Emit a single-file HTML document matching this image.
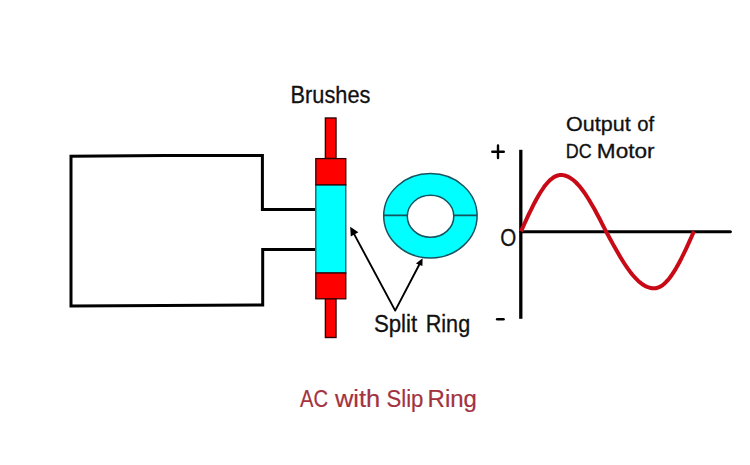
<!DOCTYPE html>
<html><head><meta charset="utf-8">
<style>
html,body{margin:0;padding:0;background:#fff;width:750px;height:465px;overflow:hidden}
svg{display:block}
text{font-family:"Liberation Sans",sans-serif}
</style></head><body>
<svg width="750" height="465" viewBox="0 0 750 465">
<rect width="750" height="465" fill="#fff"/>
<!-- left coil/armature -->
<path d="M315 209.6 H262.4 V155.5 L165 155.6 L71 156.3 V306 L262.7 305 V249.6 H315" fill="none" stroke="#000" stroke-width="3"/>
<!-- brushes -->
<rect x="325.4" y="118" width="10.6" height="40.5" fill="#f00" stroke="#300" stroke-width="1.4"/>
<rect x="325.4" y="298.5" width="10.6" height="39" fill="#f00" stroke="#300" stroke-width="1.4"/>
<rect x="315.8" y="184.8" width="30" height="88" fill="#0ff" stroke="#0b5c66" stroke-width="1.3"/>
<rect x="315.8" y="158.6" width="30" height="26.2" fill="#f00" stroke="#300" stroke-width="1.3"/>
<rect x="315.8" y="273" width="30" height="25.8" fill="#f00" stroke="#300" stroke-width="1.3"/>
<!-- ring -->
<path fill-rule="evenodd" d="M383.7 215.8 a46.7 42.2 0 1 0 93.4 0 a46.7 42.2 0 1 0 -93.4 0 Z M407.3 216.3 a23.25 21 0 1 0 46.5 0 a23.25 21 0 1 0 -46.5 0 Z" fill="#0ff" stroke="#15535e" stroke-width="1.5"/>
<path d="M383.5 215.3 H407.3 M453.8 215.3 H477.1" stroke="#15535e" stroke-width="1.8"/>
<!-- arrows -->
<polyline points="353.2,232.4 395.2,310.6 419.6,264" fill="none" stroke="#000" stroke-width="1.9" stroke-linejoin="round"/>
<polygon points="350.2,226.8 350.8,236.4 358.4,232.2" fill="#000"/>
<polygon points="422.6,258.3 415.9,263.4 422.4,266" fill="#000"/>
<!-- graph -->
<line x1="520.8" y1="149.8" x2="520.8" y2="318.8" stroke="#000" stroke-width="3.3"/>
<line x1="521" y1="231.7" x2="730.4" y2="231.7" stroke="#000" stroke-width="3" stroke-linecap="round"/>
<path d="M521.0 231.3 L522.7 227.6 L524.3 224.0 L526.0 220.3 L527.7 216.7 L529.3 213.2 L531.0 209.8 L532.7 206.4 L534.3 203.2 L536.0 200.0 L537.7 197.0 L539.3 194.2 L541.0 191.5 L542.7 189.0 L544.3 186.6 L546.0 184.5 L547.7 182.5 L549.3 180.8 L551.0 179.3 L552.7 178.0 L554.3 176.9 L556.0 176.1 L557.7 175.5 L559.3 175.1 L561.0 175.0 L561.0 175.0 L562.9 175.1 L564.8 175.5 L566.6 176.1 L568.5 176.9 L570.4 178.0 L572.2 179.3 L574.1 180.8 L576.0 182.5 L577.9 184.5 L579.8 186.6 L581.6 189.0 L583.5 191.5 L585.4 194.2 L587.2 197.0 L589.1 200.0 L591.0 203.2 L592.9 206.4 L594.8 209.8 L596.6 213.2 L598.5 216.7 L600.4 220.3 L602.2 224.0 L604.1 227.6 L606.0 231.3 L606.0 231.3 L608.0 235.0 L610.0 238.7 L612.0 242.4 L614.0 246.1 L616.0 249.6 L618.0 253.1 L620.0 256.5 L622.0 259.8 L624.0 263.0 L626.0 266.0 L628.0 268.9 L630.0 271.6 L632.0 274.2 L634.0 276.5 L636.0 278.7 L638.0 280.7 L640.0 282.4 L642.0 284.0 L644.0 285.3 L646.0 286.4 L648.0 287.2 L650.0 287.8 L652.0 288.2 L654.0 288.3 L654.0 288.3 L655.7 288.2 L657.3 287.8 L659.0 287.2 L660.7 286.4 L662.3 285.3 L664.0 284.0 L665.7 282.4 L667.3 280.7 L669.0 278.7 L670.7 276.5 L672.3 274.2 L674.0 271.6 L675.7 268.9 L677.3 266.0 L679.0 263.0 L680.7 259.8 L682.3 256.5 L684.0 253.1 L685.7 249.6 L687.3 246.1 L689.0 242.4 L690.7 238.7 L692.3 235.0 L694.0 231.3" fill="none" stroke="#c80a16" stroke-width="4" stroke-linejoin="round"/>
<!-- plus/minus -->
<path d="M492.3 151.7 H503.8 M498 145.4 V158.1" stroke="#000" stroke-width="2.4" stroke-linecap="round"/>
<path d="M497.2 319.3 H503.5" stroke="#000" stroke-width="2.6" stroke-linecap="round"/>
<!-- texts -->
<g fill="#111" stroke="#111" stroke-width="0.3">
<text x="290.61" y="102.8" font-size="23.2" textLength="79.77" lengthAdjust="spacingAndGlyphs">Brushes</text>
<text x="566.10" y="130.8" font-size="20.3" textLength="64.54" lengthAdjust="spacingAndGlyphs">Output</text>
<text x="637.30" y="130.8" font-size="20.3" textLength="16.92" lengthAdjust="spacingAndGlyphs">of</text>
<text x="565.87" y="157.6" font-size="20.3" textLength="25.88" lengthAdjust="spacingAndGlyphs">DC</text>
<text x="596.82" y="157.6" font-size="20.3" textLength="57.75" lengthAdjust="spacingAndGlyphs">Motor</text>
<text x="500.2" y="245.5" font-size="24.3" textLength="16" lengthAdjust="spacingAndGlyphs">O</text>
<text x="373.88" y="331.6" font-size="23.0" textLength="43.30" lengthAdjust="spacingAndGlyphs">Split</text>
<text x="425.71" y="331.6" font-size="23.0" textLength="44.47" lengthAdjust="spacingAndGlyphs">Ring</text>
</g>
<g fill="#a3323f" stroke="#a3323f" stroke-width="0.2">
<text x="300.00" y="406.6" font-size="23.0" textLength="28.01" lengthAdjust="spacingAndGlyphs">AC</text>
<text x="334.90" y="406.6" font-size="23.0" textLength="45.30" lengthAdjust="spacingAndGlyphs">with</text>
<text x="386.48" y="406.6" font-size="23.0" textLength="36.92" lengthAdjust="spacingAndGlyphs">Slip</text>
<text x="427.60" y="406.6" font-size="23.0" textLength="49.30" lengthAdjust="spacingAndGlyphs">Ring</text>
</g>
</svg>
</body></html>
